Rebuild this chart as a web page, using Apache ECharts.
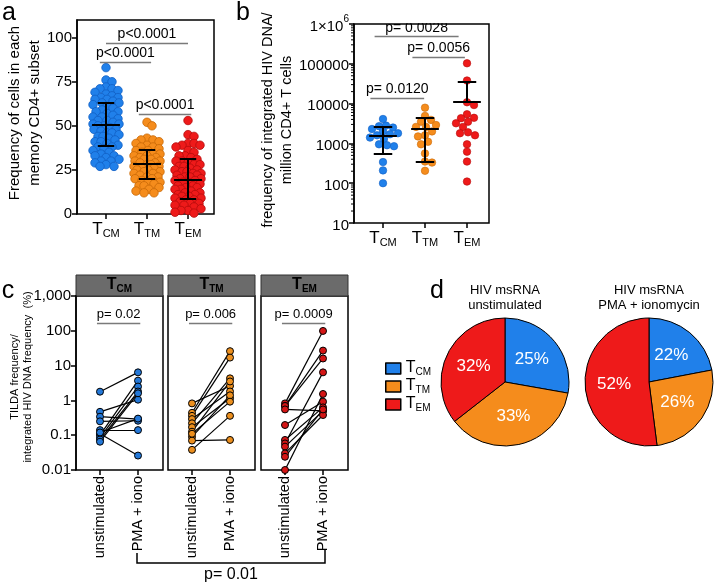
<!DOCTYPE html>
<html lang="en">
<head>
<meta charset="UTF-8">
<title>Memory CD4+ subsets</title>
<script src="https://cdn.jsdelivr.net/npm/echarts@6/dist/echarts.min.js"></script>
<style>
  html, body { margin: 0; padding: 0; background: #fff; }
  #chart { width: 714px; height: 585px; }
</style>
</head>
<body>
<div id="chart"></div>
<script type="text/javascript">
    // ---- data ----
    var subsets = ['CM', 'TM', 'EM'];
    var conditions = ['unstimulated', 'PMA + iono'];

    // a: frequency of cells in each memory subset (%)
    var freqCM = [83, 76, 75, 72, 71, 71, 70, 69, 68, 67, 66, 66, 65, 65, 64, 63, 63, 62, 61, 60, 59, 58, 58, 57, 56, 55, 55, 54, 53, 53, 52, 51, 51, 50, 50, 49, 48, 48, 47, 46, 46, 45, 44, 44, 43, 42, 41, 41, 40, 39, 38, 38, 37, 36, 35, 34, 33, 33, 32, 31, 30, 30, 29, 28, 27, 27];
    var freqTM = [52, 50, 43, 42, 42, 41, 40, 39, 38, 38, 37, 36, 36, 35, 34, 34, 33, 33, 32, 32, 31, 31, 30, 30, 29, 29, 28, 28, 27, 27, 26, 26, 25, 25, 24, 24, 23, 23, 22, 21, 21, 20, 20, 19, 18, 18, 17, 16, 16, 15, 14, 13, 12, 12];
    var freqEM = [53, 45, 44, 40, 40, 39, 39, 38, 36, 35, 33, 33, 32, 31, 30, 30, 29, 28, 28, 27, 27, 26, 25, 25, 24, 24, 23, 23, 22, 22, 21, 21, 20, 20, 19, 19, 18, 18, 17, 16, 16, 15, 15, 14, 14, 13, 12, 12, 11, 11, 10, 10, 9, 9, 8, 8, 7, 6, 6, 5, 5, 4, 3, 2, 2, 1, 0.5];
    var freqMean = [50.6, 28.6, 19.7];
    var freqSdLow = [38.5, 20.1, 8.5];
    var freqSdHigh = [62.8, 36.5, 31.4];
    var freqP = ['p<0.0001', 'p<0.0001', 'p<0.0001'];

    // b: integrated HIV DNA per million CD4+ T cells
    var dnaCM = [4100, 2800, 2700, 2500, 2300, 2000, 1800, 1700, 1600, 1400, 1300, 950, 900, 850, 340, 210, 100];
    var dnaTM = [7900, 4900, 3900, 3500, 2900, 2600, 2600, 2000, 1600, 1500, 1100, 950, 560, 350, 330, 205];
    var dnaEM = [103000, 38000, 10800, 9200, 5400, 4400, 4300, 3500, 3200, 2600, 1900, 1800, 1600, 950, 620, 350, 110];
    var dnaMean = [1560, 2300, 11000];
    var dnaSdLow = [540, 347, null];
    var dnaSdHigh = [2630, 4300, 36000];
    var dnaP = ['p= 0.0028', 'p= 0.0056', 'p= 0.0120'];

    // c: TILDA / integrated HIV DNA (%), paired
    var tildaUnstimCM = [1.78, 0.47, 0.34, 0.25, 0.14, 0.11, 0.1, 0.085, 0.075, 0.065, 0.12];
    var tildaPmaCM = [6.4, 1.05, 0.29, 0.26, 0.14, 0.026, 3.7, 2.5, 1.8, 1.6, 0.3];
    var tildaUnstimTM = [0.82, 0.44, 0.36, 0.29, 0.22, 0.17, 0.126, 0.09, 0.07, 0.038, 0.11];
    var tildaPmaTM = [2.6, 26, 17, 1.8, 4.3, 1.15, 3.5, 1.4, 0.073, 0.36, 0.92];
    var tildaUnstimEM = [0.82, 0.7, 0.69, 0.55, 0.196, 0.073, 0.058, 0.047, 0.03, 0.024, 0.01];
    var tildaPmaEM = [99, 27, 16, 0.5, 0.92, 0.63, 6.4, 0.5, 0.38, 0.55, 1.53];
    var tildaP = ['p= 0.02', 'p= 0.006', 'p= 0.0009'];
    var tildaPAll = 'p= 0.01';

    // d: HIV msRNA share per subset (%)
    var pieUnstim = [25, 33, 32];
    var piePma = [22, 26, 52];

    // ---- style ----
    var FONT = 'Liberation Sans, Arial, sans-serif';
    var fillA = ['#2080ea', '#f58c1c', '#ee1a1a'];
    var edgeA = ['#1160c4', '#c96a08', '#b50c0c'];
    var fillC = ['#2478d8', '#ec8f1e', '#d41515'];

    var chart = echarts.init(document.getElementById('chart'));
    var grid = [], xAxis = [], yAxis = [], series = [], graphic = [];

    function tSub(v) { return '{t|T}{s|' + v + '}'; }
    function subRich(big, small, color) {
        return {
            t: {fontSize: big, fontFamily: FONT, color: color, verticalAlign: 'top', lineHeight: big + 1},
            s: {fontSize: small, fontFamily: FONT, color: color, verticalAlign: 'bottom', lineHeight: small + 1, padding: [Math.round(big * 0.45), 0, 0, 0]}
        };
    }
    var blackLine = {show: true, lineStyle: {color: '#000', width: 1.5}};

    // frame grid (box + y labels) and data grid (categories) for one plot
    function addPanel(p) {
        var fi = grid.length;
        grid.push({left: p.left, top: p.top, width: p.width, height: p.height, show: true, borderColor: '#000', borderWidth: 1.5});
        var di = grid.length;
        grid.push({left: p.dataLeft, top: p.top, width: p.dataWidth, height: p.height});
        var fx = xAxis.length;
        xAxis.push({gridIndex: fi, type: 'value', min: 0, max: 1, show: false});
        xAxis.push({
            gridIndex: di, type: 'category', data: p.cats,
            axisLine: {show: false},
            axisTick: {show: true, alignWithLabel: true, length: 5, lineStyle: {color: '#000', width: 1.5}},
            axisLabel: p.xLabel, splitLine: {show: false}
        });
        var vx = xAxis.length;
        xAxis.push({gridIndex: di, type: 'value', min: -0.5, max: p.cats.length - 0.5, show: false});
        var base = {type: p.yType, min: p.yMin, max: p.yMax, splitLine: {show: false}};
        if (p.yType === 'log') base.logBase = 10; else base.interval = p.yInterval;
        var fy = yAxis.length;
        var frameY = Object.assign({gridIndex: fi}, base);
        if (p.yLabel) {
            frameY.axisLine = blackLine;
            frameY.axisTick = {show: true, length: 5, lineStyle: {color: '#000', width: 1.5}};
            frameY.axisLabel = p.yLabel;
        } else {
            frameY.show = false;
        }
        yAxis.push(frameY);
        var dy = yAxis.length;
        yAxis.push(Object.assign({gridIndex: di, show: false}, base));
        return {fx: fx, fy: fy, vx: vx, dy: dy};
    }

    // simple bee-swarm: offsets in pixels, converted to category units
    function swarm(vals, center, toPx, catPx, dot, maxOff) {
        var placed = [], out = [];
        var order = vals.map(function (v, i) { return i; }).sort(function (a, b) { return vals[b] - vals[a]; });
        order.forEach(function (i) {
            var y = toPx(vals[i]);
            var best = 0, bestD = -1;
            for (var k = 0; k <= 2 * maxOff; k++) {
                var off = (k % 2 ? 1 : -1) * Math.ceil(k / 2);
                var dmin = Infinity;
                placed.forEach(function (q) {
                    var d = Math.sqrt((q[0] - off) * (q[0] - off) + (q[1] - y) * (q[1] - y));
                    if (d < dmin) dmin = d;
                });
                if (dmin >= dot) { best = off; break; }
                if (dmin > bestD) { bestD = dmin; best = off; }
            }
            placed.push([best, y]);
            out.push([center + best / catPx, vals[i]]);
        });
        return out;
    }

    function lineSeries(ax, data, color, width, label) {
        var s = {
            type: 'lines', coordinateSystem: 'cartesian2d', xAxisIndex: ax.vx, yAxisIndex: ax.dy,
            data: data, lineStyle: {color: color, width: width, opacity: 1}, silent: true, z: 5
        };
        if (label) s.label = {show: true, position: 'middle', formatter: '{b}', fontSize: label, color: '#000', fontFamily: FONT, distance: 2};
        return s;
    }

    function meanSd(ax, means, lows, highs, meanHalf, capHalf) {
        var d = [];
        means.forEach(function (m, i) {
            var top = highs[i], bot = lows[i] === null ? m : lows[i];
            d.push({coords: [[i - meanHalf, m], [i + meanHalf, m]]});
            d.push({coords: [[i, bot], [i, top]]});
            d.push({coords: [[i - capHalf, top], [i + capHalf, top]]});
            if (lows[i] !== null) d.push({coords: [[i - capHalf, bot], [i + capHalf, bot]]});
        });
        series.push(lineSeries(ax, d, '#000', 2, 0));
    }

    var catLabel = {formatter: tSub, rich: subRich(17, 11, '#000'), margin: 7, interval: 0};

    // ---- panel a ----
    var A = addPanel({
        left: 77, top: 20, width: 137, height: 194, dataLeft: 85.5, dataWidth: 123,
        yType: 'value', yMin: 0, yMax: 110, yInterval: 25, cats: subsets, xLabel: catLabel,
        yLabel: {fontSize: 15, color: '#000', fontFamily: FONT, margin: 5, showMaxLabel: false}
    });
    [freqCM, freqTM, freqEM].forEach(function (vals, i) {
        series.push({
            type: 'scatter', xAxisIndex: A.vx, yAxisIndex: A.dy, symbolSize: 8.5,
            data: swarm(vals, i, function (v) { return v * 194 / 110; }, 41, 6, 13),
            itemStyle: {color: fillA[i], borderColor: edgeA[i], borderWidth: 0.8, opacity: 1}, silent: true, z: 3
        });
    });
    meanSd(A, freqMean, freqSdLow, freqSdHigh, 0.34, 0.2);
    series.push(lineSeries(A, [
        {name: freqP[0], coords: [[0, 97], [2, 97]]},
        {name: freqP[1], coords: [[-0.15, 86], [1.1, 86]]},
        {name: freqP[2], coords: [[0.8, 56.4], [2.08, 56.4]]}
    ], '#7a7a7a', 1.3, 14));

    // ---- panel b ----
    var B = addPanel({
        left: 354, top: 24, width: 135, height: 199, dataLeft: 362, dataWidth: 126,
        yType: 'log', yMin: 10, yMax: 1000000, cats: subsets, xLabel: catLabel,
        yLabel: {
            fontSize: 15, color: '#000', fontFamily: FONT, margin: 5,
            formatter: function (v) {
                var r = Math.round(v);
                return r >= 1000000 ? '{n|1×10}{sup|6}' : '{n|' + r + '}';
            },
            rich: {
                n: {fontSize: 15, fontFamily: FONT, color: '#000', verticalAlign: 'bottom', padding: [5, 0, 0, 0]},
                sup: {fontSize: 10, fontFamily: FONT, color: '#000', verticalAlign: 'top'}
            }
        }
    });
    [dnaCM, dnaTM, dnaEM].forEach(function (vals, i) {
        series.push({
            type: 'scatter', xAxisIndex: B.vx, yAxisIndex: B.dy, symbolSize: 7.5,
            data: swarm(vals, i, function (v) { return Math.log10(v) * 199 / 5; }, 42, 7, 15),
            itemStyle: {color: fillA[i], borderColor: edgeA[i], borderWidth: 0.6, opacity: 1}, silent: true, z: 3
        });
    });
    meanSd(B, dnaMean, dnaSdLow, dnaSdHigh, 0.33, 0.22);
    series.push(lineSeries(B, [
        {name: dnaP[0], coords: [[-0.2, 480000], [1.8, 480000]]},
        {name: dnaP[1], coords: [[0.7, 150000], [1.95, 150000]]},
        {name: dnaP[2], coords: [[-0.3, 14000], [0.98, 14000]]}
    ], '#7a7a7a', 1.3, 14));
    // minor log ticks on b's y axis
    var minorB = [];
    for (var e = 1; e < 6; e++) for (var k = 2; k < 10; k++) minorB.push([0, k * Math.pow(10, e)]);
    series.push({
        type: 'custom', coordinateSystem: 'cartesian2d', xAxisIndex: B.fx, yAxisIndex: B.fy, data: minorB, silent: true,
        renderItem: function (params, api) {
            var p = api.coord([0, api.value(1)]);
            return {type: 'line', shape: {x1: p[0] - 3, y1: p[1], x2: p[0], y2: p[1]}, style: {stroke: '#000', lineWidth: 1}};
        }
    });

    // ---- panel c ----
    var tildaUnstim = [tildaUnstimCM, tildaUnstimTM, tildaUnstimEM];
    var tildaPma = [tildaPmaCM, tildaPmaTM, tildaPmaEM];
    var frameLeftC = [76, 168, 261];
    var headRich = subRich(16, 10, '#fff');
    headRich.t.fontWeight = 'bold';
    headRich.s.fontWeight = 'bold';
    frameLeftC.forEach(function (left, s) {
        var C = addPanel({
            left: left, top: 296, width: 87, height: 174, dataLeft: left + 5, dataWidth: 76,
            yType: 'log', yMin: 0.01, yMax: 1000, cats: conditions,
            xLabel: {rotate: 90, fontSize: 14.5, color: '#000', fontFamily: FONT, margin: 6, interval: 0},
            yLabel: s === 0 ? {
                fontSize: 15, color: '#000', fontFamily: FONT, margin: 5,
                formatter: function (v) { return v >= 999 ? '1,000' : String(parseFloat(v.toPrecision(2))); }
            } : null
        });
        var pairs = tildaUnstim[s].map(function (u, i) { return {coords: [[0, u], [1, tildaPma[s][i]]]}; });
        series.push(lineSeries(C, pairs, '#000', 1.2, 0));
        series.push({
            type: 'scatter', xAxisIndex: C.vx, yAxisIndex: C.dy, symbolSize: 7,
            data: tildaUnstim[s].map(function (v) { return [0, v]; }).concat(tildaPma[s].map(function (v) { return [1, v]; })),
            itemStyle: {color: fillC[s], borderColor: '#000', borderWidth: 1, opacity: 1}, silent: true, z: 6
        });
        series.push(lineSeries(C, [{name: tildaP[s], coords: [[-0.08, 164], [1.06, 164]]}], '#7a7a7a', 1.3, 13));
        graphic.push({type: 'rect', shape: {x: left, y: 275, width: 87, height: 21}, style: {fill: '#6b6b6b', stroke: '#333', lineWidth: 1}});
        graphic.push({type: 'text', x: left + 43.5, y: 285.5, style: {text: tSub(subsets[s]), rich: headRich, align: 'center', verticalAlign: 'middle'}});
    });
    graphic.push({type: 'polyline', shape: {points: [[137, 553], [137, 563], [325, 563], [325, 550]]}, style: {stroke: '#000', lineWidth: 1.5, fill: null}});

    // ---- panel d ----
    function pieSeries(vals, cx) {
        return {
            type: 'pie', center: [cx, 382], radius: 64, startAngle: 90, clockwise: true, silent: true,
            label: {position: 'inside', formatter: '{c}%', color: '#fff', fontSize: 17, fontFamily: FONT},
            labelLine: {show: false},
            itemStyle: {borderColor: '#000', borderWidth: 1},
            data: vals.map(function (v, i) { return {name: subsets[i], value: v, itemStyle: {color: fillA[i]}}; })
        };
    }
    series.push(pieSeries(pieUnstim, 505));
    series.push(pieSeries(piePma, 649));

    // ---- texts ----
    function txt(x, y, text, size, extra) {
        var st = {text: text, fontSize: size, fontFamily: FONT, fill: '#000', align: 'center', verticalAlign: 'middle'};
        return Object.assign({type: 'text', x: x, y: y, style: Object.assign(st, extra || {})}, extra && extra.rotation ? {rotation: extra.rotation} : {});
    }
    graphic.push(txt(9, 13, 'a', 25));
    graphic.push(txt(243, 13, 'b', 25));
    graphic.push(txt(8, 291, 'c', 25));
    graphic.push(txt(437, 291, 'd', 25));
    graphic.push(txt(25, 113, 'Frequency of cells in each\nmemory CD4+ subset', 15, {lineHeight: 20, rotation: Math.PI / 2}));
    graphic.push(txt(277.5, 120, 'frequency of integrated HIV DNA/\nmillion CD4+ T cells', 14.5, {lineHeight: 19, rotation: Math.PI / 2}));
    graphic.push(txt(21, 377, 'TILDA frequency/\nintegrated HIV DNA frequency  (%)', 11, {lineHeight: 13, rotation: Math.PI / 2}));
    graphic.push(txt(231, 575, tildaPAll, 16));
    graphic.push(txt(505, 298, 'HIV msRNA\nunstimulated', 13, {lineHeight: 15}));
    graphic.push(txt(649, 298, 'HIV msRNA\nPMA + ionomycin', 13, {lineHeight: 15}));

    var option = {
        animation: false,
        textStyle: {fontFamily: FONT},
        grid: grid,
        xAxis: xAxis,
        yAxis: yAxis,
        legend: {
            data: subsets, orient: 'vertical', left: 380, top: 355, icon: 'rect',
            itemWidth: 15, itemHeight: 11, itemGap: 1,
            itemStyle: {borderColor: '#000', borderWidth: 1.5},
            formatter: tSub, textStyle: {rich: subRich(16, 10, '#000')}, selectedMode: false
        },
        graphic: graphic,
        series: series
    };
    chart.setOption(option);
</script>
</body>
</html>
